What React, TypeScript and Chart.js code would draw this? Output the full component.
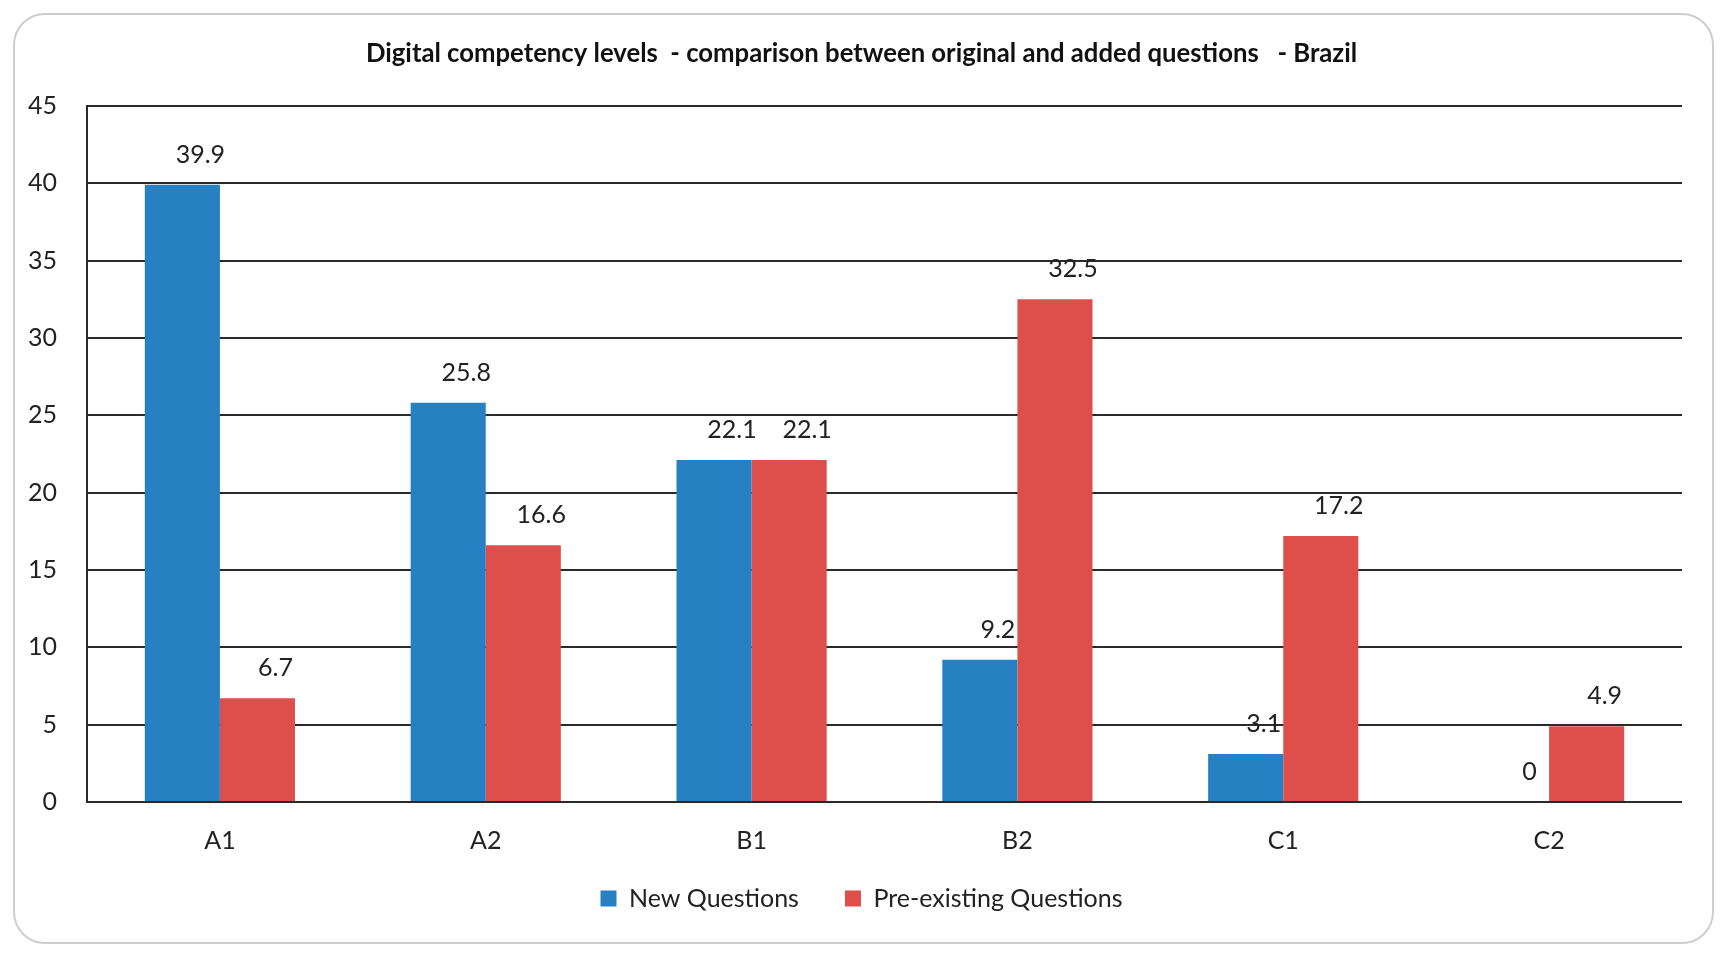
import { useEffect, useRef } from "react"
import { Chart, registerables } from "chart.js"

Chart.register(...registerables)

const FONT = "Lato, 'Open Sans', sans-serif"

const categories = ["A1", "A2", "B1", "B2", "C1", "C2"]
const newQuestions = [39.9, 25.8, 22.1, 9.2, 3.1, 0]
const preExistingQuestions = [6.7, 16.6, 22.1, 32.5, 17.2, 4.9]
const yMin = 0
const yMax = 45
const yStep = 5

// value labels above each bar (slightly right of centre, like the original)
const valueLabels = {
  id: "valueLabels",
  afterDatasetsDraw(chart: any) {
    const ctx = chart.ctx
    ctx.save()
    ctx.font = `25px ${FONT}`
    ctx.fillStyle = "#222"
    ctx.textAlign = "center"
    ctx.textBaseline = "middle"
    chart.data.datasets.forEach((ds: any, i: number) => {
      chart.getDatasetMeta(i).data.forEach((bar: any, j: number) => {
        ctx.fillText(String(ds.data[j]), bar.x + 18, bar.y - 30)
      })
    })
    ctx.restore()
  },
}

export default function App() {
  const chartRef = useRef<HTMLCanvasElement>(null)
  const chartInstance = useRef<Chart | null>(null)

  useEffect(() => {
    if (!chartRef.current) return
    if (chartInstance.current) chartInstance.current.destroy()
    const ctx = chartRef.current.getContext("2d")
    if (!ctx) return

    chartInstance.current = new Chart(ctx, {
      type: "bar",
      data: {
        labels: categories,
        datasets: [
          {
            label: "New Questions",
            data: newQuestions,
            backgroundColor: "#2680C2",
            barPercentage: 1,
            categoryPercentage: 0.565,
          },
          {
            label: "Pre-existing Questions",
            data: preExistingQuestions,
            backgroundColor: "#DE4F4C",
            barPercentage: 1,
            categoryPercentage: 0.565,
          },
        ],
      },
      plugins: [valueLabels],
      options: {
        responsive: true,
        maintainAspectRatio: false,
        animation: false,
        layout: {
          padding: { left: 0, right: 0, top: 0, bottom: 33 },
        },
        scales: {
          x: {
            grid: { display: false, drawTicks: false },
            border: { display: false },
            ticks: {
              padding: 24,
              color: "#222",
              font: { family: FONT, size: 25 },
            },
            afterFit: (scale: any) => {
              scale.height = 70
            },
          },
          y: {
            min: yMin,
            max: yMax,
            ticks: {
              stepSize: yStep,
              padding: 30,
              color: "#222",
              font: { family: FONT, size: 25 },
            },
            grid: {
              color: "#2a2a2a",
              lineWidth: 2,
              drawTicks: false,
            },
            border: { display: true, color: "#2a2a2a", width: 2 },
            afterFit: (scale: any) => {
              scale.width = 87
            },
          },
          // empty right-hand spacer so title and legend stay centred on the page
          yRight: {
            position: "right",
            grid: { display: false, drawTicks: false },
            border: { display: false },
            ticks: { display: false },
            afterFit: (scale: any) => {
              scale.width = 41
            },
          },
        },
        plugins: {
          title: {
            display: true,
            text: "Digital competency levels  - comparison between original and added questions   - Brazil",
            color: "#111",
            font: { family: FONT, size: 25.7, weight: "bold" },
            padding: { top: 38, bottom: 37 },
          },
          legend: {
            position: "bottom",
            align: "center",
            labels: {
              boxWidth: 16,
              boxHeight: 16,
              padding: 14,
              color: "#222",
              font: { family: FONT, size: 25 },
              generateLabels: (chart: any) => {
                const items = Chart.defaults.plugins.legend.labels.generateLabels(chart)
                // widen the gap between the two entries
                return items.map((it: any, i: number) =>
                  i < items.length - 1 ? { ...it, text: it.text + "     " } : it
                )
              },
            },
          },
          tooltip: { enabled: false },
        },
      },
    })

    return () => {
      if (chartInstance.current) {
        chartInstance.current.destroy()
        chartInstance.current = null
      }
    }
  }, [])

  return (
    <div
      style={{
        position: "absolute",
        top: 0,
        left: 0,
        width: 1723,
        height: 954,
        background: "#fff",
      }}
    >
      <div
        style={{
          position: "absolute",
          left: 13,
          top: 13,
          width: 1697,
          height: 927,
          border: "2px solid #cdcdcd",
          borderRadius: 32,
        }}
      />
      <div style={{ position: "absolute", left: 0, top: 0, width: 1723, height: 954 }}>
        <canvas ref={chartRef}></canvas>
      </div>
    </div>
  )
}
